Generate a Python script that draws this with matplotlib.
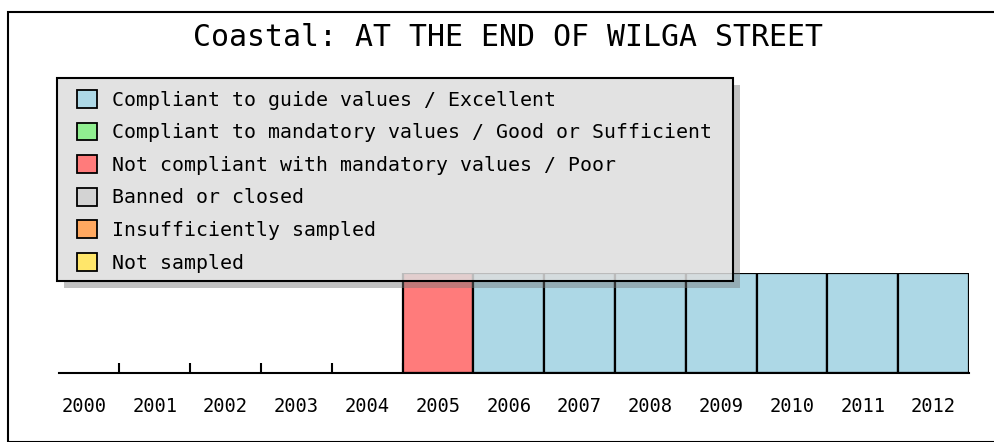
import matplotlib.pyplot as plt
from matplotlib.patches import Rectangle, Patch

years = [2000, 2001, 2002, 2003, 2004, 2005, 2006, 2007, 2008, 2009, 2010, 2011, 2012]
status = [None, None, None, None, None, 'poor', 'excellent', 'excellent', 'excellent',
          'excellent', 'excellent', 'excellent', 'excellent']

legend_keys = ['excellent', 'good', 'poor', 'closed', 'insufficient', 'notsampled']
legend_labels = ['Compliant to guide values / Excellent',
                 'Compliant to mandatory values / Good or Sufficient',
                 'Not compliant with mandatory values / Poor',
                 'Banned or closed',
                 'Insufficiently sampled',
                 'Not sampled']
colors = {'excellent': '#add8e6', 'good': '#90ee90', 'poor': '#ff7b7b',
          'closed': '#d3d3d3', 'insufficient': '#ffa860', 'notsampled': '#ffe66a'}

title = 'Coastal: AT THE END OF WILGA STREET'
mono = 'DejaVu Sans Mono'

fig = plt.figure(figsize=(9.94, 4.42), dpi=100)
W, H = 994, 442

# outer border
fig.patches.append(Rectangle((8 / W, 0), 1.0, 1 - 12 / H, transform=fig.transFigure,
                             fill=False, edgecolor='black', linewidth=1.5, zorder=0))

ax = fig.add_axes([48.6 / W, 1 - 373 / H, (969 - 48.6) / W, 100 / H])
for y, s in zip(years, status):
    if s is None:
        continue
    ax.bar(y, 1, width=1, color=colors[s], edgecolor='black', linewidth=1.6, zorder=2)

ax.set_xlim(years[0] - 0.5, years[-1] + 0.5)
ax.set_ylim(0, 1)
for sp in ['top', 'right', 'left']:
    ax.spines[sp].set_visible(False)
ax.spines['bottom'].set_linewidth(1.5)
ax.spines['bottom'].set_bounds(years[0] - 0.35, years[-1] + 0.5)
ax.set_yticks([])
ax.set_xticks(years)
ax.set_xticklabels([str(y) for y in years], fontsize=13.5, fontfamily=mono)
ax.tick_params(axis='x', length=0, pad=17)
ax.set_xticks([y + 0.5 for y in years[:-1]], minor=True)
ax.tick_params(axis='x', which='minor', direction='in', length=7, width=1.5)
ax.patch.set_alpha(0)

fig.text(508 / W, 1 - 37 / H, title, ha='center', va='center', fontsize=21.5,
         fontfamily=mono)

# legend box with drop shadow (shadow only outside the box)
bx0, by0, bx1, by1 = 57, 78, 733, 281
off = 7


def figrect(x0, y0, x1, y1, **kw):
    return Rectangle((x0 / W, 1 - y1 / H), (x1 - x0) / W, (y1 - y0) / H,
                     transform=fig.transFigure, **kw)


fig.patches.append(figrect(bx1, by0 + off, bx1 + off, by1 + off, facecolor='#777777',
                           alpha=0.45, edgecolor='none', zorder=3.8))
fig.patches.append(figrect(bx0 + off, by1, bx1, by1 + off, facecolor='#777777',
                           alpha=0.45, edgecolor='none', zorder=3.8))
fig.patches.append(figrect(bx0, by0, bx1, by1, facecolor='#dddddd', alpha=0.85,
                           edgecolor='none', zorder=3.9))
fig.patches.append(figrect(bx0, by0, bx1, by1, fill=False, edgecolor='black',
                           linewidth=1.5, zorder=3.95))

handles = [Patch(facecolor=colors[k], edgecolor='black', linewidth=1.3) for k in legend_keys]
leg = fig.legend(handles, legend_labels, loc='upper left',
                 bbox_to_anchor=(67 / W, 1 - 80 / H), borderaxespad=0,
                 prop={'family': mono, 'size': 14.3}, frameon=False,
                 handlelength=1.0, handleheight=1.0, handletextpad=0.75,
                 labelspacing=0.65, borderpad=0.5)
leg.set_zorder(5)

fig.savefig('out.png', dpi=100)
